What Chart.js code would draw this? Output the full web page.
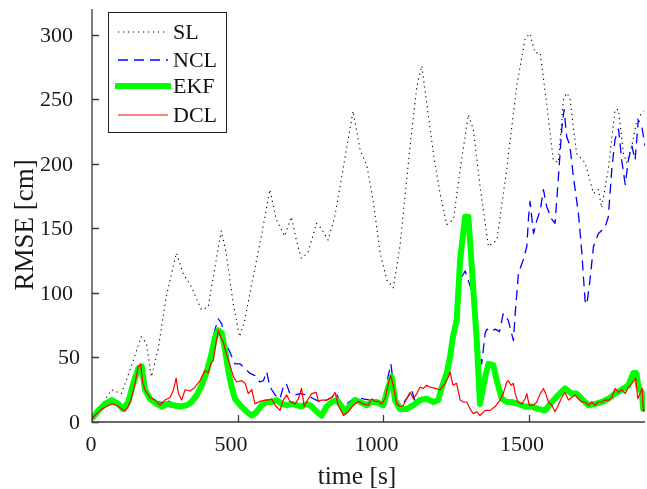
<!DOCTYPE html>
<html lang="en">
<head>
    <meta charset="UTF-8">
    <title>RMSE over time</title>
    <script src="https://cdn.jsdelivr.net/npm/chart.js"></script>
    <style>
        html, body { margin: 0; padding: 0; background: #ffffff; }
        .chart-box { width: 647px; height: 489px; position: relative; }
    </style>
</head>
<body>

<div class="chart-box">
    <canvas id="rmseChart"></canvas>
</div>

<script>
    // values (time in s, RMSE in cm)
    const slTime = [0, 32, 66, 101, 135, 169, 187, 204, 227, 255, 290, 313, 341, 376, 399, 427, 444, 461, 485, 507, 525, 547, 582, 611, 633, 662, 685, 702, 719, 742, 771, 788, 811, 834, 868, 897, 921, 944, 967, 990, 1013, 1035, 1058, 1093, 1116, 1133, 1150, 1173, 1196, 1219, 1242, 1265, 1293, 1310, 1333, 1362, 1391, 1425, 1459, 1488, 1505, 1522, 1540, 1562, 1585, 1602, 1620, 1631, 1642, 1665, 1694, 1723, 1740, 1751, 1774, 1797, 1809, 1826, 1837, 1855, 1872, 1895];
    const slRmse = [3, 12, 25, 22, 43, 66, 61, 35, 56, 97, 131, 115, 105, 87, 89, 126, 148, 131, 92, 66, 79, 105, 144, 180, 157, 144, 159, 141, 127, 131, 154, 150, 141, 159, 203, 241, 211, 199, 170, 131, 110, 104, 136, 214, 260, 276, 247, 208, 177, 153, 157, 196, 238, 227, 183, 136, 141, 196, 260, 297, 301, 286, 286, 247, 203, 201, 250, 255, 251, 208, 201, 177, 180, 166, 196, 242, 242, 208, 201, 214, 234, 241];

    const nclTime = [0, 22, 45, 68, 90, 107, 125, 142, 159, 171, 182, 199, 222, 240, 257, 280, 302, 325, 342, 360, 377, 394, 411, 423, 434, 446, 457, 474, 491, 509, 526, 543, 560, 577, 589, 600, 612, 629, 646, 657, 667, 680, 698, 715, 738, 761, 784, 806, 824, 838, 852, 875, 904, 932, 955, 978, 1001, 1018, 1027, 1036, 1047, 1064, 1087, 1098, 1110, 1130, 1150, 1173, 1190, 1202, 1219, 1230, 1240, 1253, 1265, 1282, 1300, 1322, 1339, 1351, 1357, 1372, 1385, 1400, 1413, 1430, 1448, 1454, 1465, 1482, 1494, 1500, 1505, 1517, 1528, 1540, 1551, 1562, 1580, 1591, 1602, 1614, 1622, 1631, 1642, 1654, 1671, 1683, 1694, 1700, 1711, 1723, 1740, 1763, 1774, 1786, 1797, 1809, 1820, 1832, 1843, 1855, 1866, 1877, 1889, 1900];
    const nclRmse = [2.6, 9, 14, 17, 14, 10, 15, 30, 41, 43, 25, 17, 16, 15, 17, 14, 13, 14, 16, 22, 30, 42, 58, 72, 80, 76, 62, 54, 45, 45, 41.5, 37.6, 36, 31, 32, 39, 27, 21, 18, 27, 30, 22, 21, 22, 21, 18, 15.5, 17, 19, 23, 15.5, 14, 19, 18, 17, 16, 14, 36, 45, 28, 16, 13, 20, 25, 16, 18, 19, 17, 18, 28, 40, 52, 66, 79, 110, 117, 105, 68, 45, 69, 72, 70, 72, 70, 84, 79, 63, 84, 115, 126, 136, 159, 171, 146, 156, 164, 180, 167, 157, 154, 188, 227, 242, 221, 214, 190, 162, 131, 94, 91, 110, 136, 146, 151, 159, 196, 219, 227, 203, 184, 203, 214, 203, 234, 229, 214];

    const ekfTime = [0, 22, 45, 68, 90, 107, 125, 142, 159, 171, 182, 199, 222, 240, 257, 280, 302, 325, 342, 360, 377, 394, 411, 423, 434, 446, 457, 468, 480, 491, 509, 531, 549, 566, 583, 600, 617, 635, 652, 669, 686, 703, 720, 738, 755, 772, 789, 806, 824, 841, 858, 869, 887, 904, 921, 944, 961, 978, 1001, 1018, 1030, 1041, 1058, 1081, 1104, 1127, 1150, 1173, 1190, 1202, 1219, 1230, 1240, 1253, 1265, 1282, 1293, 1305, 1322, 1333, 1351, 1362, 1379, 1391, 1408, 1425, 1442, 1465, 1488, 1511, 1534, 1557, 1580, 1602, 1625, 1648, 1665, 1683, 1706, 1729, 1752, 1775, 1797, 1820, 1843, 1860, 1870, 1878, 1889, 1894, 1900];
    const ekfRmse = [2.6, 9, 14, 17, 14, 10, 15.6, 30, 41.5, 43, 25, 18, 14, 12, 14, 13, 12, 13, 15.5, 21, 28.5, 39, 53, 66, 71, 69, 56, 40, 27, 18, 13, 8, 5, 8, 13, 15.5, 15.5, 17, 14, 13, 14, 13, 12, 14, 12, 8, 5, 12, 15.5, 17, 12, 8, 13, 17, 15.5, 13, 15.5, 15.5, 13, 27, 35, 17, 10, 10, 13, 17, 18, 15.5, 17, 27, 38, 50, 66, 79, 126, 159, 159, 120, 63, 14, 35, 45, 44, 32, 18, 15.5, 15.5, 14, 12, 12, 10, 9, 15.5, 21, 26, 22, 22, 18, 13, 14, 15.5, 18, 22, 25, 28.5, 38, 38, 27, 23, 10, 10];

    const dclTime = [0, 16, 33, 50, 68, 85, 102, 113, 125, 136, 148, 159, 167, 174, 182, 199, 216, 234, 251, 268, 280, 289, 297, 308, 320, 337, 354, 371, 388, 400, 408, 417, 426, 434, 442, 451, 463, 474, 486, 497, 514, 526, 537, 549, 560, 577, 595, 606, 617, 629, 646, 657, 669, 680, 698, 709, 720, 729, 743, 755, 770, 778, 789, 806, 824, 835, 846, 864, 881, 898, 915, 932, 949, 961, 972, 985, 995, 1007, 1018, 1027, 1036, 1047, 1058, 1070, 1081, 1093, 1104, 1116, 1127, 1139, 1150, 1162, 1179, 1196, 1213, 1225, 1230, 1240, 1253, 1265, 1276, 1288, 1299, 1310, 1322, 1333, 1351, 1368, 1385, 1402, 1413, 1425, 1431, 1440, 1448, 1454, 1463, 1477, 1488, 1494, 1502, 1517, 1528, 1540, 1551, 1559, 1568, 1580, 1591, 1602, 1614, 1625, 1637, 1648, 1660, 1671, 1683, 1694, 1706, 1717, 1729, 1740, 1752, 1763, 1775, 1786, 1797, 1809, 1820, 1832, 1843, 1855, 1868, 1875, 1883, 1890, 1894, 1900];
    const dclRmse = [2.6, 6.5, 10, 12, 14, 13, 10, 8.5, 12, 19, 30, 43, 45, 31, 25, 19, 17, 13, 17, 19, 25, 34, 22, 17, 25, 24, 27, 32, 40, 38, 45, 48, 61, 71, 66, 62, 52, 44, 35, 31, 32, 30, 22, 25, 14, 16, 17, 17, 18, 13, 9, 17, 21, 16, 14, 18, 26, 12, 18, 22, 23, 16, 17, 17, 19, 23, 13, 5, 8, 13, 16, 14, 13, 18, 16, 16, 14, 18, 30, 36, 27, 14, 12, 13, 18, 23, 18, 22, 27, 26, 28.5, 27, 26, 25, 30, 35, 39, 28.5, 30, 17, 15.5, 15.5, 10, 6.5, 8, 5, 9, 9, 12, 17, 22, 31, 32, 28.5, 30, 22, 15.5, 14, 18, 22, 13, 13, 15.5, 22, 26, 22, 15.5, 13, 8, 13, 19, 23, 17, 19, 21, 18, 15.5, 15.5, 13, 15.5, 13, 15.5, 15.5, 17, 17, 19, 26, 23, 25, 22, 27, 30, 34, 18, 22, 26, 9, 9];

    const xTicks = [0, 500, 1000, 1500];
    const yTicks = [0, 50, 100, 150, 200, 250, 300];

    const serif = "'Liberation Serif', 'DejaVu Serif', serif";
    const axisColor = '#3a3a3a';
    const textColor = '#1a1a1a';

    function toPoints(times, values) {
        return times.map((t, i) => ({ x: t, y: values[i] }));
    }

    const series = [
        { label: 'SL', data: toPoints(slTime, slRmse), color: '#000000', width: 1.1, dash: [1.2, 3.8], order: 3 },
        { label: 'NCL', data: toPoints(nclTime, nclRmse), color: '#0000ff', width: 1.3, dash: [10, 6], order: 2 },
        { label: 'EKF', data: toPoints(ekfTime, ekfRmse), color: '#00ff00', width: 6, dash: [], order: 1 },
        { label: 'DCL', data: toPoints(dclTime, dclRmse), color: '#ff0000', width: 1.2, dash: [], order: 0 }
    ];

    // axis lines, inward ticks, tick labels, axis titles and the boxed legend
    const axesAndLegend = {
        id: 'axesAndLegend',
        afterDatasetsDraw(chart) {
            const ctx = chart.ctx;
            const area = chart.chartArea;
            const xs = chart.scales.x, ys = chart.scales.y;
            ctx.save();
            ctx.strokeStyle = axisColor;
            ctx.lineWidth = 1.3;
            ctx.setLineDash([]);
            ctx.beginPath();
            ctx.moveTo(area.left, area.top);
            ctx.lineTo(area.left, area.bottom);
            ctx.lineTo(area.right, area.bottom);
            xTicks.forEach(v => {
                const px = Math.round(xs.getPixelForValue(v)) + 0.5;
                ctx.moveTo(px, area.bottom);
                ctx.lineTo(px, area.bottom - 7);
            });
            yTicks.forEach(v => {
                const py = Math.round(ys.getPixelForValue(v)) + 0.5;
                ctx.moveTo(area.left, py);
                ctx.lineTo(area.left + 7, py);
            });
            ctx.stroke();

            // tick labels
            ctx.fillStyle = textColor;
            ctx.font = '22px ' + serif;
            ctx.textBaseline = 'middle';
            ctx.textAlign = 'center';
            xTicks.forEach(v => {
                const s = String(v);
                const shift = s.length > 1 ? -6.5 : -1;
                ctx.fillText(s, xs.getPixelForValue(v) + shift, area.bottom + 23);
            });
            ctx.textAlign = 'right';
            yTicks.forEach(v => {
                const s = String(v);
                const gap = s.length > 2 ? 19 : 12;
                ctx.fillText(s, area.left - gap, ys.getPixelForValue(v) + 1);
            });

            // axis titles
            ctx.textAlign = 'center';
            ctx.textBaseline = 'alphabetic';
            ctx.font = '25.5px ' + serif;
            ctx.fillText('time [s]', 357, 484);
            ctx.save();
            ctx.translate(33, 225);
            ctx.rotate(-Math.PI / 2);
            ctx.font = '27px ' + serif;
            ctx.fillText('RMSE [cm]', 0, 0);
            ctx.restore();

            // legend
            const bx = 108, by = 12, bw = 118, bh = 120;
            ctx.fillStyle = '#ffffff';
            ctx.fillRect(bx, by, bw, bh);
            ctx.strokeStyle = '#222222';
            ctx.lineWidth = 1;
            ctx.strokeRect(bx + 0.5, by + 0.5, bw, bh);
            const rows = [32, 60, 86, 115];
            ctx.font = '22px ' + serif;
            ctx.textAlign = 'left';
            ctx.textBaseline = 'middle';
            series.forEach((s, i) => {
                const y = rows[i];
                ctx.beginPath();
                ctx.strokeStyle = s.color;
                ctx.lineWidth = s.width;
                ctx.setLineDash(s.dash);
                ctx.moveTo(s.label === 'EKF' ? 115 : 118, y);
                ctx.lineTo(s.label === 'EKF' ? 171 : 168, y);
                ctx.stroke();
                ctx.fillStyle = '#111111';
                ctx.fillText(s.label, 173, y + 1);
            });
            ctx.restore();
        }
    };

    const ctx = document.getElementById('rmseChart').getContext('2d');
    new Chart(ctx, {
        type: 'line',
        data: {
            datasets: series.map(s => ({
                label: s.label,
                data: s.data,
                borderColor: s.color,
                borderWidth: s.width,
                borderDash: s.dash,
                pointRadius: 0,
                tension: 0,
                fill: false,
                order: s.order,
                borderJoinStyle: 'round'
            }))
        },
        options: {
            responsive: true,
            maintainAspectRatio: false,
            animation: false,
            layout: { padding: { top: 9, right: 2, left: 0, bottom: 0 } },
            plugins: {
                legend: { display: false },
                tooltip: { enabled: false }
            },
            scales: {
                x: {
                    type: 'linear',
                    min: 0,
                    max: 1900,
                    grid: { display: false },
                    border: { display: false },
                    ticks: { display: false },
                    afterFit: scale => {
                        scale.height = 67;
                        scale.paddingLeft = 0;
                        scale.paddingRight = 0;
                    }
                },
                y: {
                    type: 'linear',
                    min: 0,
                    max: 320,
                    grid: { display: false },
                    border: { display: false },
                    ticks: { display: false },
                    afterFit: scale => {
                        scale.width = 92;
                        scale.paddingTop = 0;
                        scale.paddingBottom = 0;
                    }
                }
            }
        },
        plugins: [axesAndLegend]
    });
</script>

</body>
</html>
